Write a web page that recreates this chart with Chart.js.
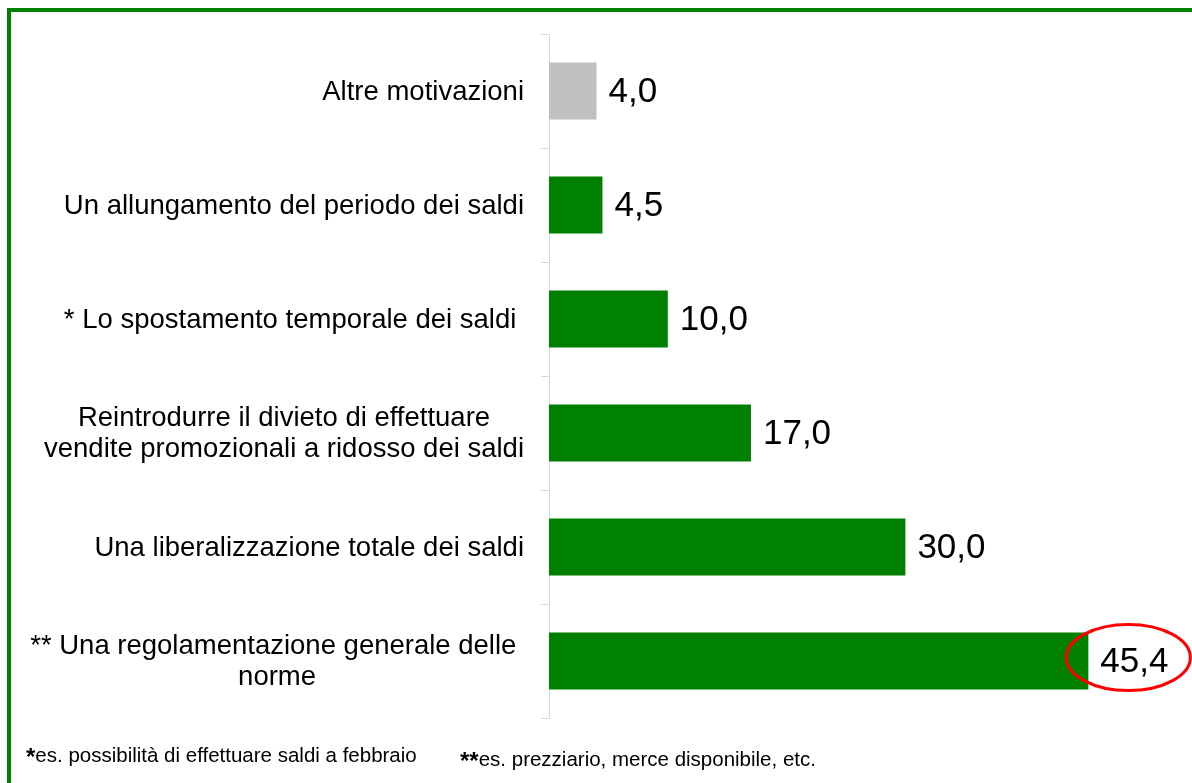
<!DOCTYPE html>
<html>
<head>
<meta charset="utf-8">
<script src="https://cdn.jsdelivr.net/npm/chart.js@4.4.1/dist/chart.umd.min.js"></script>
<style>
    body { margin: 0; background: #fff; }
    #wrap { position: relative; width: 1192px; height: 783px; overflow: hidden; font-family: "Liberation Sans", Arial, sans-serif; }
    #frame { position: absolute; left: 7px; top: 8px; width: 1250px; height: 850px; border: 4px solid #008000; box-sizing: border-box; }
    #myChart { position: absolute; left: 0; top: 0; }
    .note { position: absolute; font-size: 20.5px; line-height: 24px; color: #000; white-space: nowrap; }
    .note b { font-size: 24px; vertical-align: -3px; }
</style>
</head>
<body>
<div id="wrap">
    <div id="frame"></div>
    <canvas id="myChart" width="1192" height="783"></canvas>
    <div class="note" style="left:26px; top:743px;"><b>*</b>es. possibilità di effettuare saldi a febbraio</div>
    <div class="note" style="left:460px; top:747px;"><b>**</b>es. prezziario, merce disponibile, etc.</div>
</div>
<script>
// Horizontal bar chart

const categories = [
    'Altre motivazioni',
    'Un allungamento del periodo dei saldi',
    '* Lo spostamento temporale dei saldi ',
    ['Reintrodurre il divieto di effettuare', 'vendite promozionali a ridosso dei saldi'],
    'Una liberalizzazione totale dei saldi',
    ['** Una regolamentazione generale delle ', 'norme']
];
const values = [4.0, 4.5, 10.0, 17.0, 30.0, 45.4];   // percent
const barColors = ['#C0C0C0', '#008000', '#008000', '#008000', '#008000', '#008000'];
const highlightIndex = 5;                           // bar whose label gets the red circle

const fontFamily = '"Liberation Sans", Arial, sans-serif';

// category labels: each block right aligned, lines centred inside the block
const categoryLabels = {
    id: 'categoryLabels',
    afterDraw(chart) {
        const ctx = chart.ctx;
        const yScale = chart.scales.y;
        const right = chart.chartArea.left - 25;
        ctx.save();
        ctx.font = '27.5px ' + fontFamily;
        ctx.fillStyle = '#000';
        ctx.textAlign = 'center';
        ctx.textBaseline = 'middle';
        categories.forEach((label, i) => {
            const lines = Array.isArray(label) ? label : [label];
            const widest = Math.max(...lines.map(l => ctx.measureText(l).width));
            const cx = right - widest / 2;
            const yc = yScale.getPixelForTick(i);
            lines.forEach((line, j) => {
                ctx.fillText(line, cx, yc + (j - (lines.length - 1) / 2) * 31.5 + 1);
            });
        });
        ctx.restore();
    }
};

// value labels at the end of each bar, plus the red ellipse
const valueLabels = {
    id: 'valueLabels',
    afterDatasetsDraw(chart) {
        const ctx = chart.ctx;
        const meta = chart.getDatasetMeta(0);
        ctx.save();
        ctx.font = '35px ' + fontFamily;
        ctx.fillStyle = '#000';
        ctx.textAlign = 'left';
        ctx.textBaseline = 'middle';
        meta.data.forEach((bar, i) => {
            const txt = values[i].toFixed(1).replace('.', ',');
            ctx.fillText(txt, bar.x + 12, bar.y + 1);
        });
        const hb = meta.data[highlightIndex];
        ctx.beginPath();
        ctx.ellipse(hb.x + 40, hb.y - 3.5, 62, 33, 0, 0, Math.PI * 2);
        ctx.strokeStyle = '#FF0000';
        ctx.lineWidth = 3;
        ctx.stroke();
        ctx.restore();
    }
};

const ctx = document.getElementById('myChart');

const myChart = new Chart(ctx, {
    type: 'bar',
    data: {
        labels: categories,
        datasets: [{
            data: values,
            backgroundColor: barColors,
            borderWidth: 0,
            barPercentage: 0.5,
            categoryPercentage: 1.0
        }]
    },
    options: {
        indexAxis: 'y',
        responsive: false,
        animation: false,
        devicePixelRatio: 1,
        layout: {
            padding: { left: 0, top: 34, right: 49, bottom: 65 }
        },
        scales: {
            x: {
                display: false,
                min: 0,
                max: 50
            },
            y: {
                afterFit(scale) { scale.width = 549; },
                grid: {
                    drawOnChartArea: false,
                    drawTicks: true,
                    tickLength: 8,
                    color: '#D9D9D9'
                },
                border: { display: true, color: '#D9D9D9' },
                ticks: { display: false }
            }
        },
        plugins: {
            legend: { display: false },
            tooltip: { enabled: false }
        }
    },
    plugins: [categoryLabels, valueLabels]
});
</script>
</body>
</html>
